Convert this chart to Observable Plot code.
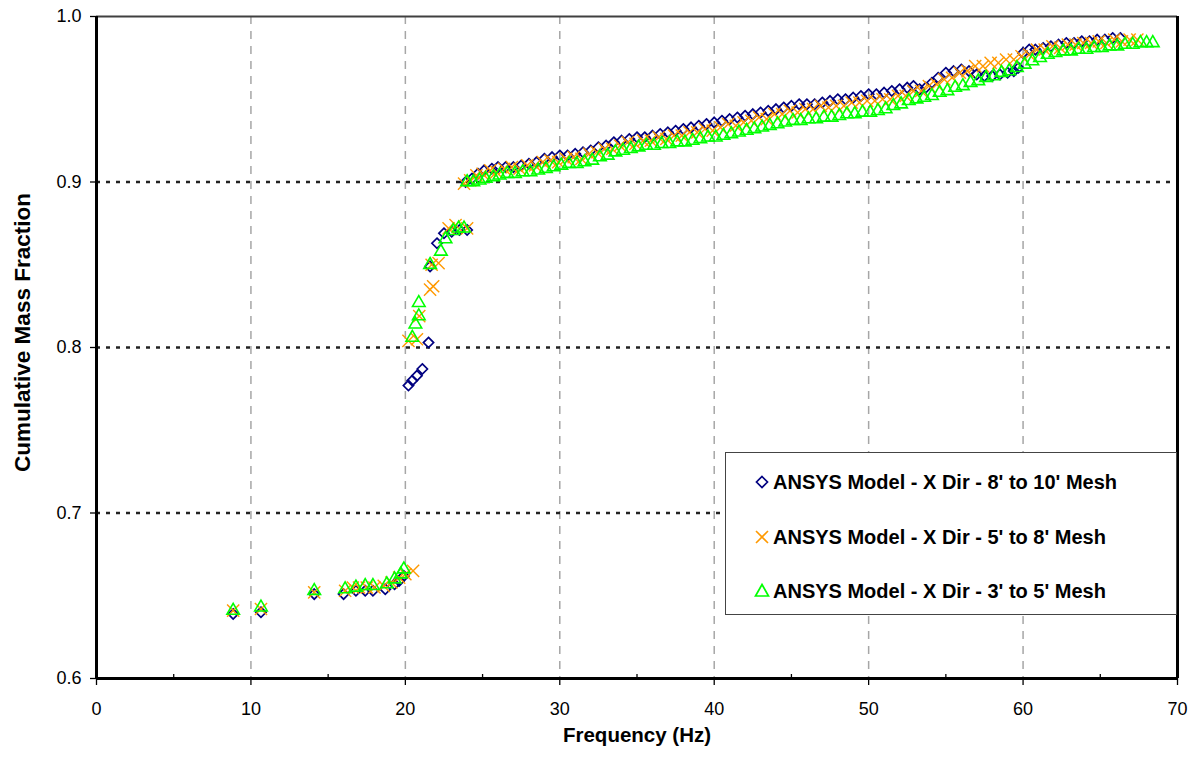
<!DOCTYPE html>
<html>
<head>
<meta charset="utf-8">
<script src="https://cdn.jsdelivr.net/npm/d3@7"></script>
<script src="https://cdn.jsdelivr.net/npm/@observablehq/plot@0.6"></script>
<style>
  html, body { margin: 0; padding: 0; background: #fff; }
  #wrap { position: relative; width: 1198px; height: 761px; font-family: "Liberation Sans", Arial, sans-serif; }
  #legend { position: absolute; left: 725px; top: 452px; width: 452px; height: 163px; border: 1px solid #444; background: #fff; box-sizing: border-box; }
  .row { position: absolute; left: 28px; height: 24px; display: flex; align-items: center; font-weight: bold; font-size: 20px; color: #000; white-space: nowrap; }
  .row svg { width: 16px; height: 16px; margin-right: 3px; overflow: visible; }
</style>
</head>
<body>
<div id="wrap"></div>
<script>
// ---- data (frequency Hz, cumulative mass fraction) ----
const seriesNames = [
  "ANSYS Model - X Dir - 8' to 10' Mesh",
  "ANSYS Model - X Dir - 5' to 8' Mesh",
  "ANSYS Model - X Dir - 3' to 5' Mesh"
];
const seriesColors = ["#000080", "#ff9900", "#00ff00"];

const mesh8to10 = [
  [8.85,.639],[10.65,.640],[14.1,.651],[16.0,.651],[16.8,.653],[17.4,.653],[17.9,.653],[18.7,.654],[19.3,.657],[19.6,.659],[19.9,.662],
  [20.2,.777],[20.45,.780],[20.75,.783],[21.1,.787],[21.5,.803],[21.6,.849],[22.05,.863],[22.5,.869],[23.0,.870],[23.5,.871],[24.0,.871],
  [23.9,.900],[24.3,.902],[24.7,.905],[25.1,.907],[25.6,.908],[26.0,.909],[26.5,.909],[27.0,.909],[27.5,.910],[28.0,.911],[28.5,.912],
  [29.0,.914],[29.5,.915],[30.0,.916],[30.5,.916],[31.0,.917],[31.5,.918],[32.0,.919],[32.5,.921],[33.0,.922],[33.5,.924],[34.0,.925],
  [34.5,.926],[35.0,.927],[35.5,.927],[36.0,.928],[36.5,.929],[37.0,.930],[37.5,.931],[38.0,.932],[38.5,.933],[39.0,.934],[39.5,.935],
  [40.0,.936],[40.5,.937],[41.0,.938],[41.5,.939],[42.0,.940],[42.5,.941],[43.0,.942],[43.5,.943],[44.0,.944],[44.5,.945],[45.0,.946],
  [45.5,.947],[46.0,.947],[46.5,.947],[47.0,.948],[47.5,.949],[48.0,.950],[48.5,.950],[49.0,.951],[49.5,.952],[50.0,.953],[50.5,.953],
  [51.0,.954],[51.5,.955],[52.0,.956],[52.5,.957],[52.9,.958],[53.3,.956],[53.7,.957],[54.1,.960],[54.5,.963],[55.0,.966],[55.5,.967],
  [56.0,.968],[56.5,.967],[57.0,.965],[57.5,.964],[58.0,.964],[58.5,.965],[59.0,.966],[59.4,.967],[59.7,.969],[60.0,.978],[60.4,.980],
  [60.8,.980],[61.3,.981],[61.8,.982],[62.3,.983],[62.8,.984],[63.3,.984],[63.8,.985],[64.3,.985],[64.8,.986],[65.3,.986],[65.8,.987],[66.3,.987]
];

const mesh5to8 = [
  [8.85,.641],[10.65,.642],[14.1,.652],[16.1,.653],[16.6,.655],[17.0,.655],[17.5,.655],[18.0,.655],[18.6,.656],[19.1,.658],[19.6,.661],[20.0,.663],[20.5,.665],
  [20.2,.804],[20.75,.805],[20.9,.819],[21.6,.835],[21.8,.837],[21.7,.850],[22.15,.851],[22.8,.872],[23.25,.874],[24.0,.872],
  [23.8,.899],[24.2,.901],[24.6,.904],[25.0,.905],[25.5,.907],[25.9,.906],[26.4,.908],[26.9,.909],[27.4,.908],[27.9,.910],[28.4,.910],
  [28.9,.912],[29.4,.913],[29.9,.912],[30.4,.914],[30.9,.915],[31.4,.914],[31.9,.917],[32.4,.918],[32.9,.920],[33.4,.920],[33.9,.922],
  [34.4,.924],[34.9,.923],[35.4,.925],[35.9,.925],[36.4,.927],[36.9,.926],[37.4,.928],[37.9,.928],[38.4,.930],[38.9,.930],[39.4,.932],
  [39.9,.931],[40.4,.933],[40.9,.935],[41.4,.934],[41.9,.936],[42.4,.937],[42.9,.939],[43.4,.938],[43.9,.941],[44.4,.941],[44.9,.943],
  [45.4,.942],[45.9,.944],[46.4,.944],[46.9,.946],[47.4,.945],[47.9,.946],[48.4,.946],[48.9,.948],[49.4,.948],[49.9,.949],[50.4,.949],
  [50.9,.950],[51.4,.950],[51.9,.952],[52.4,.952],[52.9,.955],[53.4,.955],[53.9,.958],[54.4,.959],[54.9,.962],[55.4,.963],[55.9,.966],
  [56.4,.967],[56.9,.970],[57.4,.970],[57.9,.972],[58.4,.972],[58.9,.974],[59.4,.974],[59.9,.976],[60.4,.977],[60.9,.980],[61.4,.980],
  [61.9,.982],[62.4,.981],[62.9,.983],[63.4,.983],[63.9,.984],[64.4,.984],[64.9,.985],[65.4,.984],[65.9,.986],[66.4,.985],[66.9,.986],[67.4,.986]
];

const mesh3to5 = [
  [8.85,.641],[10.65,.643],[14.1,.653],[16.1,.654],[16.8,.655],[17.4,.656],[17.9,.656],[18.8,.657],[19.3,.660],[19.7,.663],[19.9,.666],
  [20.45,.806],[20.65,.814],[20.87,.819],[20.87,.827],[21.6,.850],[22.3,.858],[22.6,.8655],[23.1,.8705],[23.45,.872],[23.8,.872],
  [24.0,.900],[24.4,.900],[24.8,.901],[25.2,.902],[25.7,.903],[26.1,.904],[26.6,.905],[27.1,.905],[27.6,.906],[28.1,.906],[28.6,.907],
  [29.1,.908],[29.6,.909],[30.1,.910],[30.6,.911],[31.1,.911],[31.6,.912],[32.1,.913],[32.6,.915],[33.1,.916],[33.6,.918],[34.1,.919],
  [34.6,.920],[35.1,.921],[35.6,.922],[36.1,.922],[36.6,.923],[37.1,.923],[37.6,.924],[38.1,.924],[38.6,.925],[39.1,.926],[39.6,.927],
  [40.1,.927],[40.6,.928],[41.1,.929],[41.6,.930],[42.1,.931],[42.6,.932],[43.1,.933],[43.6,.934],[44.1,.935],[44.6,.936],[45.1,.937],
  [45.6,.937],[46.1,.938],[46.6,.938],[47.1,.939],[47.6,.939],[48.1,.940],[48.6,.941],[49.1,.941],[49.6,.942],[50.1,.942],[50.6,.943],
  [51.1,.944],[51.6,.946],[52.1,.947],[52.6,.949],[53.1,.950],[53.6,.951],[54.1,.952],[54.6,.954],[55.1,.955],[55.6,.957],[56.1,.958],
  [56.6,.960],[57.1,.961],[57.6,.963],[58.1,.964],[58.6,.966],[59.1,.967],[59.6,.969],[60.1,.971],[60.6,.973],[61.1,.975],[61.6,.977],
  [62.1,.978],[62.6,.979],[63.1,.979],[63.6,.980],[64.1,.980],[64.6,.981],[65.1,.981],[65.6,.982],[66.1,.982],[66.6,.983],[67.1,.983],
  [67.6,.984],[68.0,.984],[68.4,.984]
];

const xTicks = [0, 10, 20, 30, 40, 50, 60, 70];
const xMinorTicks = [5, 15, 25, 35, 45, 55, 65];
const xGridLines = [10, 20, 30, 40, 50, 60];
const yTicks = [0.6, 0.7, 0.8, 0.9, 1.0];
const yGridLines = [0.7, 0.8, 0.9];
const xTitle = "Frequency (Hz)";
const yTitle = "Cumulative Mass Fraction";

const chart = Plot.plot({
  width: 1198,
  height: 761,
  marginLeft: 96,
  marginRight: 21,
  marginTop: 16,
  marginBottom: 83,
  x: {domain: [0, 70]},
  y: {domain: [0.6, 1.0]},
  style: {fontFamily: "'Liberation Sans', Arial, sans-serif", background: "#fff", color: "#000"},
  marks: [
    Plot.ruleX(xGridLines, {stroke: "#a6a6a6", strokeWidth: 1.5, strokeDasharray: "8,7"}),
    Plot.ruleY(yGridLines, {stroke: "#222", strokeWidth: 2.5, strokeDasharray: "4,6"}),
    Plot.dot(mesh8to10, {x: d => d[0], y: d => d[1], symbol: "diamond2", r: 4.6, stroke: seriesColors[0], strokeWidth: 1.7, fill: "none"}),
    Plot.dot(mesh5to8, {x: d => d[0], y: d => d[1], symbol: "times", r: 5.6, stroke: seriesColors[1], strokeWidth: 1.4, fill: "none"}),
    Plot.dot(mesh3to5, {x: d => d[0], y: d => d[1], symbol: "triangle2", r: 6, stroke: seriesColors[2], strokeWidth: 1.6, fill: "none"}),
    Plot.ruleY([1.0], {stroke: "#404040", strokeWidth: 2}),
    Plot.ruleX([0], {stroke: "#000", strokeWidth: 3}),
    Plot.ruleX([70], {stroke: "#000", strokeWidth: 3}),
    Plot.ruleY([0.6], {stroke: "#000", strokeWidth: 3}),
    Plot.axisX(xTicks, {tickSize: 7, tickPadding: 17, fontSize: 18, strokeWidth: 1.3, tickFormat: d => String(d), label: null}),
    Plot.axisX(xMinorTicks, {tickSize: 4, dy: -4, strokeWidth: 1.3, tickFormat: () => "", label: null}),
    Plot.axisY(yTicks, {tickSize: 6, tickPadding: 9, fontSize: 18, strokeWidth: 1.3, tickFormat: d => d.toFixed(1), label: null}),
    Plot.text([xTitle], {text: d => d, frameAnchor: "bottom", dy: 63, fontSize: 20.5, fontWeight: "bold"}),
    Plot.text([yTitle], {text: d => d, frameAnchor: "left", textAnchor: "middle", dx: -74, dy: -15, rotate: -90, fontSize: 22.5, fontWeight: "bold"})
  ]
});

const wrap = document.getElementById("wrap");
wrap.appendChild(chart);

// legend box (inside the plot area, as in the reference)
const symbolsSvg = [
  '<svg viewBox="-8 -8 16 16"><path d="M0,-5.5L5.5,0L0,5.5L-5.5,0Z" fill="none" stroke="#000080" stroke-width="1.7"/></svg>',
  '<svg viewBox="-8 -8 16 16"><path d="M-6,-6L6,6M6,-6L-6,6" fill="none" stroke="#ff9900" stroke-width="1.6"/></svg>',
  '<svg viewBox="-8 -8 16 16"><path d="M0,-6.5L6.5,5L-6.5,5Z" fill="none" stroke="#00ff00" stroke-width="1.7"/></svg>'
];
const legend = document.createElement("div");
legend.id = "legend";
const rowTops = [17, 72, 126];
seriesNames.forEach((name, i) => {
  const row = document.createElement("div");
  row.className = "row";
  row.style.top = rowTops[i] + "px";
  row.innerHTML = symbolsSvg[i] + "<span>" + name + "</span>";
  legend.appendChild(row);
});
wrap.appendChild(legend);
</script>
</body>
</html>
